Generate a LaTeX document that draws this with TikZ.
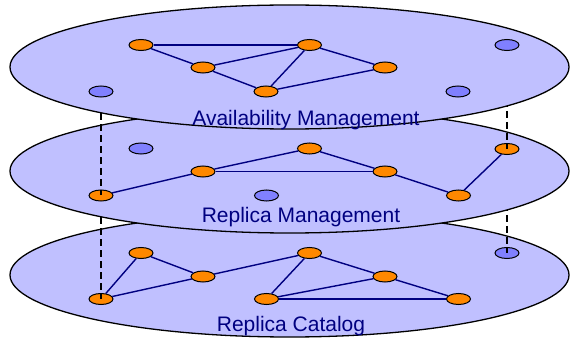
\documentclass[tikz,border=0pt]{standalone}
\usepackage{fontspec}
\setmainfont{Liberation Sans}
\usetikzlibrary{shapes.geometric}
\definecolor{planefill}{HTML}{C0C0FF}
\definecolor{peerfill}{HTML}{FF8800}
\definecolor{idlefill}{HTML}{8080FF}
\definecolor{navy}{HTML}{000080}
\pgfdeclarelayer{catalog}
\pgfdeclarelayer{lowlinks}
\pgfdeclarelayer{replica}
\pgfdeclarelayer{highlinks}
\pgfdeclarelayer{avail}
\pgfsetlayers{catalog,lowlinks,replica,highlinks,avail,main}
\tikzset{
  plane/.style={ellipse, draw=black, line width=1.3pt, fill=planefill,
    minimum width=559pt, minimum height=124pt, inner sep=0pt},
  peer/.style={ellipse, draw=black, line width=1pt, fill=peerfill,
    minimum width=24pt, minimum height=11pt, inner sep=0pt},
  idle/.style={peer, fill=idlefill},
  link/.style={draw=navy, line width=1.4pt},
  tie/.style={draw=black, line width=1.1pt, dash pattern=on 7pt off 4pt},
  caption/.style={anchor=base, text=navy, inner sep=0pt,
    font=\fontsize{21}{25}\selectfont}
}
\begin{document}
\begin{tikzpicture}[x=1pt, y=-1pt]
\useasboundingbox (0,0) rectangle (574,342);

% bottom plane: replica catalog
\begin{pgfonlayer}{catalog}
  \node[plane] (Pc) at (289.5,275) {};
  \node[peer] (c1) at (101,299) {};
  \node[peer] (c2) at (141,253) {};
  \node[peer] (c3) at (203,276.5) {};
  \node[peer] (c4) at (309.5,253) {};
  \node[peer] (c5) at (385,276.5) {};
  \node[peer] (c6) at (266.5,299) {};
  \node[peer] (c7) at (458.5,299) {};
  \node[idle] (c8) at (507,253) {};
  \draw[link] (c1) -- (c2);
  \draw[link] (c2) -- (c3);
  \draw[link] (c1) -- (c3);
  \draw[link] (c3) -- (c4);
  \draw[link] (c4) -- (c5);
  \draw[link] (c4) -- (c6);
  \draw[link] (c6) -- (c5);
  \draw[link] (c6) -- (c7);
  \draw[link] (c5) -- (c7);
\end{pgfonlayer}

% middle plane: replica management
\begin{pgfonlayer}{replica}
  \node[plane] (Pr) at (289.5,171) {};
  \node[peer] (m1) at (101,195.5) {};
  \node[peer] (m2) at (203,171.5) {};
  \node[peer] (m3) at (309.5,148.5) {};
  \node[peer] (m4) at (385,171.5) {};
  \node[peer] (m5) at (458.5,195.5) {};
  \node[peer] (m6) at (507,149) {};
  \node[idle] (m7) at (141,148.5) {};
  \node[idle] (m8) at (266.5,195.5) {};
  \draw[link] (m1) -- (m2);
  \draw[link] (m2) -- (m3);
  \draw[link] (m2) -- (m4);
  \draw[link] (m3) -- (m4);
  \draw[link] (m4) -- (m5);
  \draw[link] (m5) -- (m6);
\end{pgfonlayer}

% top plane: availability management
\begin{pgfonlayer}{avail}
  \node[plane] (Pa) at (289.5,67) {};
  \node[peer] (a1) at (141,45) {};
  \node[peer] (a2) at (309.5,45) {};
  \node[peer] (a3) at (203,67.5) {};
  \node[peer] (a4) at (385,67.5) {};
  \node[peer] (a5) at (266,91.5) {};
  \node[idle] (a6) at (101,91.5) {};
  \node[idle] (a7) at (507,45) {};
  \node[idle] (a8) at (458,91.5) {};
  \draw[link] (a1) -- (a2);
  \draw[link] (a1) -- (a3);
  \draw[link] (a3) -- (a2);
  \draw[link] (a3) -- (a5);
  \draw[link] (a2) -- (a5);
  \draw[link] (a2) -- (a4);
  \draw[link] (a4) -- (a5);
\end{pgfonlayer}

% vertical ties between the planes
\begin{pgfonlayer}{lowlinks}
  \draw[tie] (m1.center) -- (c1.center);
  \draw[tie] (m6.center) -- (c8.center);
\end{pgfonlayer}
\begin{pgfonlayer}{highlinks}
  \draw[tie] (a6.center) -- (m1.center);
  \draw[tie] (a7.center) -- (m6.center);
\end{pgfonlayer}

% plane captions
\node[caption] (ta) at (306,125.5) {Availability Management};
\node[caption] (tr) at (301,223) {Replica Management};
\node[caption] (tc) at (291,331) {Replica Catalog};
\end{tikzpicture}
\end{document}
